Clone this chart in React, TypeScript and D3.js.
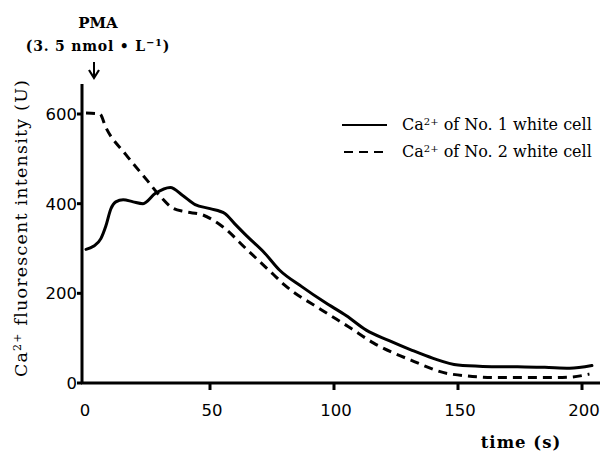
import React from "react";
import * as d3 from "d3";

const cell1Time = [0, 3, 6, 8, 10, 12, 15, 19, 23, 28, 34, 39, 44, 50, 56, 60, 65, 72, 78, 87, 96, 105, 113, 122, 131, 140, 150, 160, 174, 185, 195, 204];
const cell1Ca = [298, 305, 322, 350, 388, 404, 409, 404, 400, 423, 436, 418, 398, 389, 378, 355, 327, 290, 252, 215, 181, 150, 118, 95, 74, 55, 40, 37, 36, 35, 33, 39];

const cell2Time = [0, 5.6, 8, 16, 24.5, 30, 35, 40, 47, 55, 65, 75, 80, 95, 106, 116, 131, 147, 167, 187, 195, 203];
const cell2Ca = [602, 600, 570, 510, 453, 416, 390, 382, 375, 349, 297, 245, 219, 163, 125, 89, 51, 20, 12, 12, 13, 20];

const xTicks = [0, 50, 100, 150, 200];
const yTicks = [0, 200, 400, 600];
const seriesLabels = ["of No. 1 white cell", "of No. 2 white cell"];

export default function App() {
  const x = d3.scaleLinear().domain([0, 200]).range([86, 582]);
  const y = d3.scaleLinear().domain([0, 600]).range([383, 114]);
  const line = d3
    .line<[number, number]>()
    .x((d) => x(d[0]))
    .y((d) => y(d[1]))
    .curve(d3.curveMonotoneX);
  const s1 = cell1Time.map((t, i) => [t, cell1Ca[i]] as [number, number]);
  const s2 = cell2Time.map((t, i) => [t, cell2Ca[i]] as [number, number]);
  const serif = "'DejaVu Serif', 'Liberation Serif', serif";
  const sans = "'DejaVu Sans', sans-serif";
  const axisX = 82;
  return (
    <svg
      width={607}
      height={453}
      style={{ position: "absolute", left: 0, top: 0, background: "#fff" }}
    >
      <rect width={607} height={453} fill="#fff" />
      {/* header */}
      <text x={98} y={28} textAnchor="middle" fontFamily={serif} fontWeight="bold" fontSize={15}>PMA</text>
      <text x={98} y={51} textAnchor="middle" fontFamily={serif} fontWeight="bold" fontSize={14} letterSpacing={0.8}>
        (3. 5 nmol • L<tspan dy={-5} fontSize={10}>−1</tspan><tspan dy={5}>)</tspan>
      </text>
      <line x1={94} x2={94} y1={62} y2={77} stroke="#000" strokeWidth={2} />
      <path d="M89,70 L94,78 L99,70" fill="none" stroke="#000" strokeWidth={2.2} />

      {/* axes */}
      <line x1={axisX} x2={axisX} y1={84} y2={384} stroke="#000" strokeWidth={3} />
      <line x1={axisX - 1} x2={600} y1={383} y2={383} stroke="#000" strokeWidth={3} />
      {yTicks.map((v) => (
        <g key={"y" + v}>
          <line x1={axisX - 5} x2={axisX} y1={y(v)} y2={y(v)} stroke="#000" strokeWidth={3} />
          <text x={77} y={y(v) + 6} textAnchor="end" fontFamily={sans} fontSize={16.5}>{v}</text>
        </g>
      ))}
      {xTicks.map((t) => (
        <g key={"x" + t}>
          {t > 0 && <line x1={x(t)} x2={x(t)} y1={383} y2={390} stroke="#000" strokeWidth={3} />}
          <text x={x(t) + (t === 0 ? -1 : 2)} y={416} textAnchor="middle" fontFamily={sans} fontSize={16.5}>{t}</text>
        </g>
      ))}
      <text x={521} y={448} textAnchor="middle" fontFamily={serif} fontWeight="bold" fontSize={16.5} letterSpacing={1}>time (s)</text>
      <text
        transform="translate(27,228) rotate(-90)"
        textAnchor="middle"
        fontFamily={serif}
        fontSize={17.5}
        letterSpacing={1.2}
      >
        Ca<tspan dy={-6} fontSize={11}>2+</tspan><tspan dy={6}> fluorescent intensity (U)</tspan>
      </text>

      {/* series */}
      <path d={line(s1) || ""} fill="none" stroke="#000" strokeWidth={3} strokeLinejoin="round" strokeLinecap="round" />
      <path d={line(s2) || ""} fill="none" stroke="#000" strokeWidth={3} strokeDasharray="9 6" />

      {/* legend */}
      <line x1={342} x2={387} y1={125} y2={125} stroke="#000" strokeWidth={2.2} />
      <line x1={344} x2={387} y1={152} y2={152} stroke="#000" strokeWidth={2.2} strokeDasharray="9 6" />
      {seriesLabels.map((lab, i) => (
        <text key={lab} x={402} y={130 + i * 27} fontFamily={serif} fontSize={16}>
          Ca<tspan dy={-5} fontSize={10}>2+</tspan><tspan dy={5}> {lab}</tspan>
        </text>
      ))}
    </svg>
  );
}
